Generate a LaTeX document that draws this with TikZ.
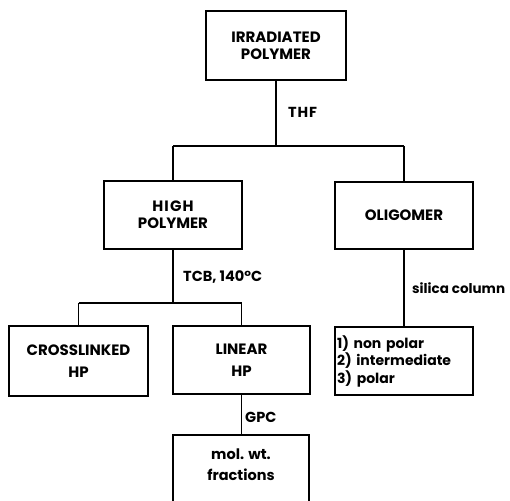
\documentclass[tikz,border=0pt]{standalone}
\usepackage{fontspec}
\setmainfont{Poppins}[UprightFont=* Bold]
\begin{document}
\begin{tikzpicture}[x=1pt,y=-1pt,
  box/.style={draw,line width=1.6pt,minimum width=#1,inner sep=0pt,align=center,font=\fontsize{15}{17}\selectfont},
  box/.default=138pt,
  lbl/.style={anchor=west,inner sep=0pt,font=\fontsize{14.5}{16}\selectfont},
  conn/.style={line width=1.6pt}]
\useasboundingbox (0,0) rectangle (510,500);
\clip (0,0) rectangle (510,500);
\node[box=140pt,minimum height=69pt] (irr) at (276,45.5) {IRRADIATED\\POLYMER};
\node[box,minimum height=68pt] (high) at (173,215) {\addfontfeature{LetterSpace=8}HIGH\\POLYMER};
\node[box,minimum height=67pt] (olig) at (404,215.5) {OLIGOMER};
\node[box=139pt,minimum height=70pt] (cross) at (78.5,361) {CROSSLINKED\\[5pt]HP};
\node[box=137pt,minimum height=68pt] (lin) at (241.5,360) {LINEAR\\[5pt]HP};
\node[box,minimum height=68pt,align=left,font=\fontsize{14}{17.5}\selectfont,text width=134pt] (frac) at (404,361) {1) non polar\\2) intermediate\\3) polar};
\node[box=136pt,minimum height=75pt,font=\fontsize{14.5}{21}\selectfont,text depth=16pt] (mol) at (241,472.5) {mol. wt.\\fractions};
\coordinate (j1) at (276,146);
\coordinate (j2) at (173,303);
\draw[conn] (irr.south) -- (j1);
\draw[conn] (high.north |- j1) -- (olig.north |- j1);
\draw[conn] (high.north |- j1) -- (high.north);
\draw[conn] (olig.north |- j1) -- (olig.north);
\draw[conn] (high.south) -- (j2);
\draw[conn] (cross.north |- j2) -- (lin.north |- j2);
\draw[conn] (cross.north |- j2) -- (cross.north);
\draw[conn] (lin.north |- j2) -- (lin.north);
\draw[conn] (olig.south) -- (frac.north);
\draw[conn] (lin.south) -- (lin.south |- mol.north);
\node[lbl] (thf) at (288,112) {\addfontfeature{LetterSpace=6}THF};
\node[lbl] (tcb) at (183,277) {TCB, 140°C};
\node[lbl,font=\fontsize{13.5}{15}\selectfont] (sil) at (412,288) {silica column};
\node[lbl] (gpc) at (245,417) {GPC};
\end{tikzpicture}
\end{document}
